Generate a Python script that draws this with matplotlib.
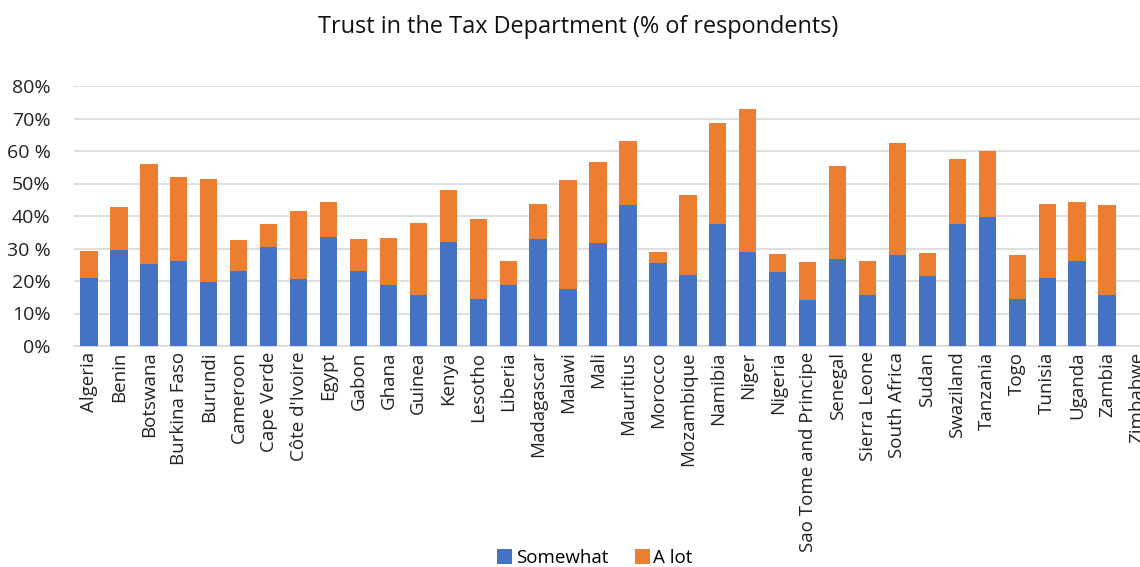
import matplotlib
matplotlib.use("Agg")
import matplotlib.pyplot as plt
import numpy as np

countries = ["Algeria", "Benin", "Botswana", "Burkina Faso", "Burundi", "Cameroon",
             "Cape Verde", "Côte d'Ivoire", "Egypt", "Gabon", "Ghana", "Guinea",
             "Kenya", "Lesotho", "Liberia", "Madagascar", "Malawi", "Mali",
             "Mauritius", "Morocco", "Mozambique", "Namibia", "Niger", "Nigeria",
             "Sao Tome and Principe", "Senegal", "Sierra Leone", "South Africa",
             "Sudan", "Swaziland", "Tanzania", "Togo", "Tunisia", "Uganda",
             "Zambia", "Zimbabwe"]

somewhat = [20.8, 29.5, 25.1, 26.1, 19.8, 23.1, 30.6, 20.6, 33.4, 23.0,
            18.8, 15.6, 32.1, 14.6, 18.9, 32.8, 17.4, 31.6, 43.5, 25.5,
            21.9, 37.5, 28.8, 22.9, 14.3, 26.8, 15.6, 28.0, 21.5, 37.4,
            39.8, 14.4, 20.8, 26.3, 15.7, 0.0]
total = [29.1, 42.7, 56.1, 52.1, 51.5, 32.6, 37.6, 41.4, 44.3, 32.9,
         33.3, 37.7, 48.0, 39.0, 26.1, 43.6, 51.2, 56.5, 63.0, 28.8,
         46.5, 68.7, 72.8, 28.3, 25.9, 55.5, 26.1, 62.4, 28.5, 57.5,
         59.9, 28.0, 43.8, 44.2, 43.5, 0.0]
a_lot = [t - s for t, s in zip(total, somewhat)]

ytick_vals = [0, 10, 20, 30, 40, 50, 60, 70, 80]
ytick_labels = ["0%", "10%", "20%", "30 %", "40%", "50%", "60 %", "70%", "80%"]

plt.rcParams['font.family'] = ['Open Sans', 'DejaVu Sans']

W, H = 1140, 567
fig = plt.figure(figsize=(W / 100, H / 100), dpi=100)
left_px, right_px = 74, 1152
bottom_px, top_px = 346, 86
ax = fig.add_axes([left_px / W, (H - bottom_px) / H,
                   (right_px - left_px) / W, (bottom_px - top_px) / H])

x = np.arange(len(countries))
blue = "#4472C4"
orange = "#ED7D31"
ax.bar(x, somewhat, width=0.58, color=blue, label="Somewhat", zorder=3)
ax.bar(x, a_lot, width=0.58, bottom=somewhat, color=orange, label="A lot", zorder=3)

ax.set_xlim(-0.5, len(countries) - 0.5)
ax.set_ylim(0, 80)
ax.set_yticks(ytick_vals)
ax.set_yticklabels(ytick_labels, fontsize=14, color="#222222")
ax.set_xticks(x)
ax.set_xticklabels(countries, rotation=90, fontsize=13.5, color="#222222")
ax.tick_params(axis="both", length=0)
ax.tick_params(axis="x", pad=4)
ax.tick_params(axis="y", pad=17)
ax.grid(axis="y", color="#D9D9D9", linewidth=1.2, zorder=0)
for s in ["top", "right", "left"]:
    ax.spines[s].set_visible(False)
ax.spines["bottom"].set_color("#D9D9D9")
ax.spines["bottom"].set_linewidth(1.2)

fig.text(0.507, 1 - 27 / H, "Trust in the Tax Department (% of respondents)",
         ha="center", va="center", fontsize=16.9, color="#111111")

fig.legend(loc="center", bbox_to_anchor=(0.522, 1 - 558 / H), ncol=2, frameon=False,
           fontsize=13.5, handlelength=0.8, handleheight=0.8, handletextpad=0.2,
           columnspacing=1.4)

fig.savefig("out.png", dpi=100)
